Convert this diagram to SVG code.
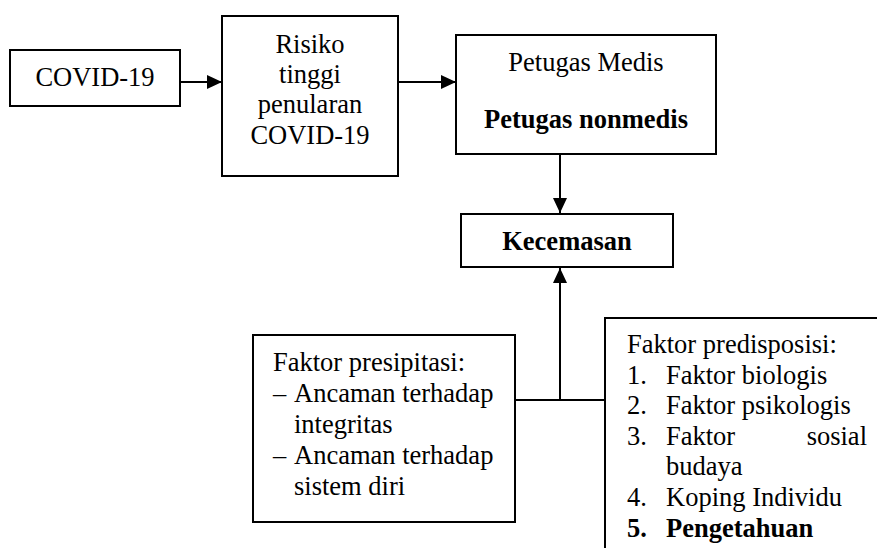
<svg xmlns="http://www.w3.org/2000/svg" width="877" height="548" viewBox="0 0 877 548">
<style>
.box{fill:#fff;stroke:#000;stroke-width:2}
.t{font-family:"Liberation Serif","Times New Roman",serif;font-size:26.5px;fill:#000}
.c{text-anchor:middle}
.b{font-weight:bold}
.ln{stroke:#000;stroke-width:2;fill:none}
</style>
<defs>
<marker id="ah" markerUnits="userSpaceOnUse" markerWidth="15" markerHeight="14" refX="15" refY="7" orient="auto">
<path d="M0,0 L15,7 L0,14 z" fill="#000"/>
</marker>
</defs>
<rect width="877" height="548" fill="#fff"/>
<g id="connectors">
<line class="ln" x1="180" y1="82" x2="222" y2="82" marker-end="url(#ah)"/>
<line class="ln" x1="398" y1="82" x2="456" y2="82" marker-end="url(#ah)"/>
<line class="ln" x1="560" y1="154" x2="560" y2="213" marker-end="url(#ah)"/>
<line class="ln" x1="560" y1="400" x2="560" y2="268" marker-end="url(#ah)"/>
<line class="ln" x1="515" y1="400" x2="605" y2="400"/>
</g>
<g id="covid">
<rect class="box" x="10" y="50" width="170" height="56"/>
<text class="t c" x="95" y="86">COVID-19</text>
</g>
<g id="risiko">
<rect class="box" x="222" y="16" width="176" height="160"/>
<text class="t c" x="310" y="52.5">Risiko</text>
<text class="t c" x="310" y="83">tinggi</text>
<text class="t c" x="310" y="113">penularan</text>
<text class="t c" x="310" y="143.5">COVID-19</text>
</g>
<g id="petugas">
<rect class="box" x="456" y="35" width="260" height="119"/>
<text class="t c" x="586" y="71">Petugas Medis</text>
<text class="t c b" x="586" y="128">Petugas nonmedis</text>
</g>
<g id="kecemasan">
<rect class="box" x="461" y="214" width="212" height="53"/>
<text class="t c b" x="567" y="250">Kecemasan</text>
</g>
<g id="presipitasi">
<rect class="box" x="253" y="335" width="262" height="187"/>
<text class="t" x="273" y="371">Faktor presipitasi:</text>
<text class="t" x="273" y="402">–</text>
<text class="t" x="294" y="402">Ancaman terhadap</text>
<text class="t" x="294" y="433">integritas</text>
<text class="t" x="273" y="464">–</text>
<text class="t" x="294" y="464">Ancaman terhadap</text>
<text class="t" x="294" y="495">sistem diri</text>
</g>
<g id="predisposisi">
<rect class="box" x="605" y="318" width="300" height="300"/>
<text class="t" x="627" y="353">Faktor predisposisi:</text>
<text class="t" x="627" y="384">1.</text>
<text class="t" x="666" y="384">Faktor biologis</text>
<text class="t" x="627" y="414">2.</text>
<text class="t" x="666" y="414">Faktor psikologis</text>
<text class="t" x="627" y="445">3.</text>
<text class="t" x="666" y="445">Faktor</text>
<text class="t" x="867" y="445" text-anchor="end">sosial</text>
<text class="t" x="666" y="475">budaya</text>
<text class="t" x="627" y="506">4.</text>
<text class="t" x="666" y="506">Koping Individu</text>
<text class="t b" x="627" y="537">5.</text>
<text class="t b" x="666" y="537">Pengetahuan</text>
</g>
</svg>
